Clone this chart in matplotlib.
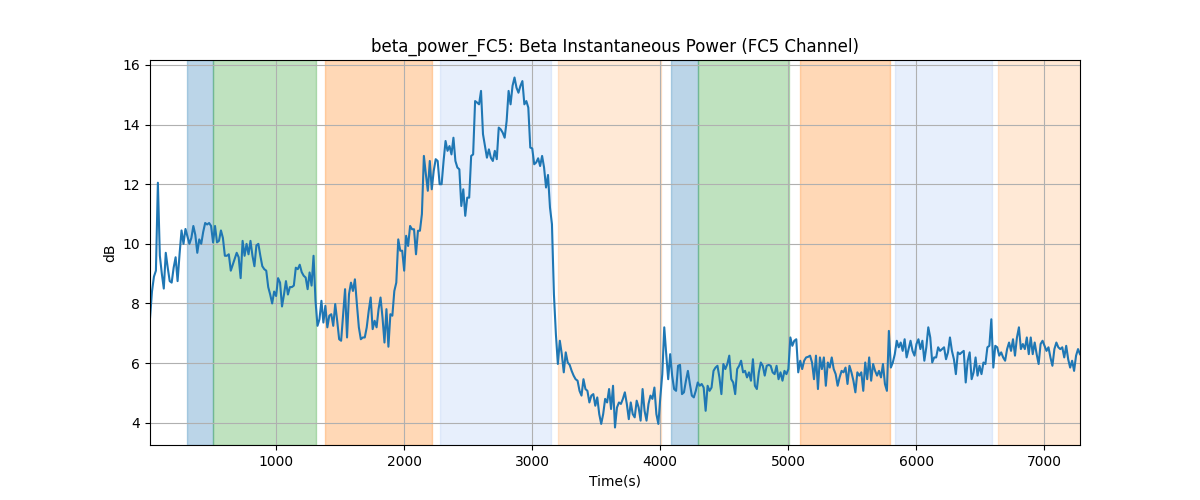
import numpy as np
import matplotlib
matplotlib.use("Agg")
import matplotlib.pyplot as plt

# beta power in dB, roughly uniform sampling
power_a = [7.5, 8.4, 8.9, 9.1, 12.05, 9.6, 9.0, 8.5, 9.7, 9.2, 8.75, 8.7, 9.2, 9.55, 8.75, 9.65,
           10.45, 10.0, 10.5, 10.25, 10.0, 10.2, 10.6, 10.3, 9.7, 10.15, 10.0, 10.4, 10.7, 10.65,
           10.7, 10.6, 10.05, 10.6, 10.05, 10.1, 10.45, 10.2, 9.6, 9.6, 9.65, 9.1, 9.3, 9.5, 9.7,
           9.55, 8.85, 10.1, 9.6, 10.0, 9.65, 10.1, 9.6, 9.25, 9.95, 10.0, 9.6, 9.25, 9.15, 9.1,
           8.55, 8.3, 8.0, 8.4, 8.25, 8.85, 8.7, 7.9, 8.3, 8.75, 8.3, 8.55, 8.55, 8.6, 9.2, 9.15,
           9.3, 9.05]
power_b = [8.93, 8.87, 8.48, 9.04, 8.6, 9.6, 8.09, 7.25, 7.47, 8.09, 7.36, 7.92, 7.2, 7.59, 7.64,
           7.25, 7.98, 7.42, 6.8, 6.75, 7.64, 8.48, 6.86, 8.31, 8.7, 8.42, 8.81, 7.98, 7.2, 6.8,
           6.86, 6.86, 7.2, 7.75, 8.2, 7.14, 7.42, 7.2, 7.81, 8.2, 7.53, 6.69, 7.81, 6.55, 7.64,
           7.59, 8.42, 8.7, 10.15, 9.77, 9.77, 9.1, 10.27, 9.93, 10.6, 10.49, 10.49, 9.65, 10.44,
           10.44, 11.0, 12.95, 12.34, 11.78, 12.78, 11.83, 12.45, 12.84, 12.78, 12.0, 12.0, 12.78,
           13.45, 13.12, 13.28, 13.0, 13.56, 12.78]
power_c = [12.56, 12.5, 11.27, 11.83, 10.94, 11.55, 11.55, 12.95, 13.0, 14.79, 14.74, 14.68, 15.13,
           13.68, 13.28, 12.89, 13.17, 12.89, 12.78, 13.12, 12.84, 13.9, 13.84, 13.73, 13.56, 14.12,
           15.13, 14.68, 15.3, 15.58, 15.24, 15.07, 15.3, 15.46, 14.68, 14.79, 14.57, 13.23, 13.2,
           12.67, 12.73, 12.87, 12.61, 12.95, 12.56, 11.89, 12.31, 11.22, 10.66, 8.31, 6.97, 5.97,
           6.75, 6.3, 5.69, 6.36, 6.02, 5.94, 5.74, 5.58, 5.46, 5.41, 5.07, 4.91, 5.46,
           5.13, 5.07, 4.68, 4.91, 4.96, 4.57, 4.85, 4.29, 3.96, 4.29, 4.8, 4.68, 5.13, 4.46, 5.24]
power_d = [3.84, 4.51, 4.68, 4.63, 4.8, 5.02, 4.63, 4.12, 4.68, 4.29, 4.18, 4.74, 4.51, 4.07, 5.13,
           4.4, 4.07, 4.63, 4.91, 4.8, 5.18, 4.29, 3.96, 4.85, 5.63, 7.2, 6.3, 5.46, 6.3, 5.58, 5.13,
           5.07, 5.91, 5.94, 4.96, 5.02, 5.41, 5.74, 5.3, 4.91, 4.85, 5.07, 5.35, 5.24, 5.3, 5.18,
           4.4, 5.24, 5.07, 5.18, 5.74, 5.85, 5.91, 5.52, 4.96, 5.97, 5.8, 5.97, 6.25, 5.46, 5.35,
           4.96, 5.8, 5.91, 6.08, 5.69, 5.74, 5.52, 5.69, 5.41, 6.13, 5.24, 5.13, 5.69, 6.02, 5.91,
           5.58, 5.91, 5.94, 5.91]
power_e = [5.69, 5.63, 5.91, 5.46, 5.69, 5.41, 5.74, 5.63, 5.8, 6.86, 6.58, 6.75, 6.8, 5.69, 6.08,
           5.8, 6.08, 6.19, 6.21, 6.25, 6.02, 5.46, 6.25, 5.13, 6.19, 5.8, 6.19, 5.24, 6.02, 5.85,
           6.19, 5.8, 5.63, 5.24, 5.52, 5.74, 5.69, 5.85, 5.3, 5.91, 5.69, 5.41, 5.02, 5.69, 5.58,
           5.69, 5.07, 6.02, 5.46, 6.19, 5.41, 5.97, 5.74, 5.58, 5.74, 5.52, 5.97, 5.3, 5.07, 7.08,
           5.85, 6.02, 6.3, 6.75, 6.53, 6.69, 6.41, 6.8, 6.19, 6.47, 6.75, 6.41, 6.25, 6.64, 6.8,
           6.47, 6.75, 6.08]
power_f = [6.53, 7.2, 6.86, 6.02, 6.19, 6.19, 6.53, 6.41, 6.47, 6.53, 6.13, 6.36, 6.86, 6.41, 6.13,
           5.63, 6.36, 6.3, 6.36, 6.41, 5.35, 6.08, 6.36, 5.46, 5.69, 6.19, 5.58, 5.91, 5.63, 6.02,
           5.97, 6.53, 6.58, 7.47, 5.85, 6.58, 6.53, 6.25, 6.36, 6.19, 6.08, 6.47, 6.69, 6.41, 6.8,
           6.25, 6.86, 7.2, 6.47, 6.64, 6.47, 6.86, 6.3, 6.86, 6.3, 6.69, 6.3, 5.97, 6.64, 6.75,
           6.58, 6.41, 6.53, 6.19, 5.91, 6.47, 6.69, 6.53, 6.47, 6.53, 6.19, 6.58, 6.13, 5.85, 6.08,
           5.74, 6.25, 6.47, 6.3]

power = np.array(power_a + power_b + power_c + power_d + power_e + power_f)
t_start, t_end = 16, 7280
time = np.linspace(t_start, t_end, len(power))

# task phases (start, end) in seconds
phase_blue = [(305, 510), (4086, 4300)]
phase_green = [(510, 1316), (4300, 5010)]
phase_orange = [(1383, 2222), (5094, 5795)]
phase_lightblue = [(2281, 3152), (5836, 6592)]
phase_lightorange = [(3201, 4004), (6638, 7400)]

fig, ax = plt.subplots(figsize=(12, 5))

for a, b in phase_blue:
    ax.axvspan(a, b, color='tab:blue', alpha=0.3)
for a, b in phase_green:
    ax.axvspan(a, b, color='tab:green', alpha=0.3)
for a, b in phase_orange:
    ax.axvspan(a, b, color='tab:orange', alpha=0.3)
for a, b in phase_lightblue:
    ax.axvspan(a, b, color='cornflowerblue', alpha=0.15)
for a, b in phase_lightorange:
    ax.axvspan(a, b, color='tab:orange', alpha=0.17)

ax.plot(time, power, color='tab:blue', lw=1.5)
ax.set_xlim(t_start, t_end)
ax.set_title('beta_power_FC5: Beta Instantaneous Power (FC5 Channel)')
ax.set_xlabel('Time(s)')
ax.set_ylabel('dB')
ax.grid(True)

plt.savefig('out.png', dpi=100)
